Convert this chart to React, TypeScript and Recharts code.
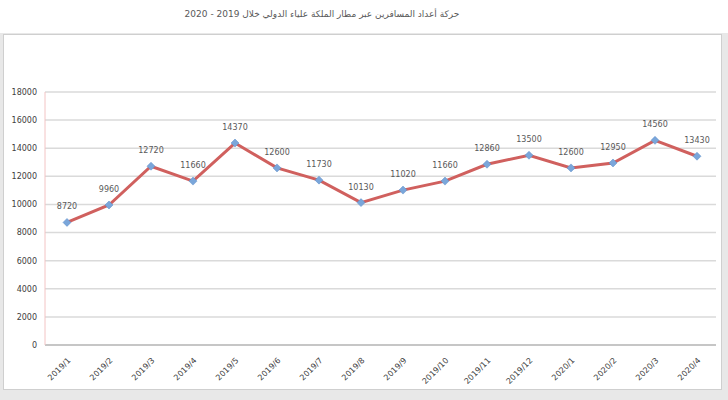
import { CartesianGrid, LabelList, Line, LineChart, XAxis, YAxis } from "recharts";

const title = "حركة أعداد المسافرين عبر مطار الملكة علياء الدولي خلال 2019 - 2020";

const months = [
  "2019/1", "2019/2", "2019/3", "2019/4", "2019/5", "2019/6", "2019/7", "2019/8",
  "2019/9", "2019/10", "2019/11", "2019/12", "2020/1", "2020/2", "2020/3", "2020/4",
];

const values = [
  8720, 9960, 12720, 11660, 14370, 12600, 11730, 10130,
  11020, 11660, 12860, 13500, 12600, 12950, 14560, 13430,
];

const yTicks = [0, 2000, 4000, 6000, 8000, 10000, 12000, 14000, 16000, 18000];

const data = months.map((m, i) => ({ month: m, value: values[i] }));

function MonthTick({ x, y, payload }: any) {
  return (
    <g transform={`translate(${x + 4},${y + 8})`}>
      <text
        textAnchor="end"
        transform="rotate(-45)"
        fontSize={8}
        fill="#404040"
        fontFamily="DejaVu Sans, sans-serif"
      >
        {payload.value}
      </text>
    </g>
  );
}

function Diamond({ cx, cy }: any) {
  if (cx == null || cy == null) return null;
  return (
    <path
      d={`M${cx},${cy - 4} L${cx + 4},${cy} L${cx},${cy + 4} L${cx - 4},${cy} Z`}
      fill="#7aa6da"
      stroke="#5b8cc8"
      strokeWidth={0.5}
    />
  );
}

export default function App() {
  return (
    <div
      style={{
        position: "absolute",
        left: 0,
        top: 0,
        width: 728,
        height: 400,
        background: "#ffffff",
        fontFamily: "DejaVu Sans, sans-serif",
      }}
    >
      <div
        style={{
          position: "absolute",
          left: 0,
          top: 33,
          width: 728,
          height: 367,
          background: "#e8e8e8",
        }}
      />
      <div
        style={{
          position: "absolute",
          left: 3,
          top: 34,
          width: 717,
          height: 354,
          background: "#ffffff",
          border: "1px solid #cfcfcf",
        }}
      />
      <div
        style={{
          position: "absolute",
          left: 0,
          top: 9,
          width: 644,
          textAlign: "center",
          fontSize: 9,
          color: "#595959",
          direction: "rtl",
        }}
      >
        {title}
      </div>
      <div style={{ position: "absolute", left: 0, top: 0 }}>
        <LineChart
          width={728}
          height={400}
          data={data}
          margin={{ top: 92, right: 12, bottom: 0, left: 0 }}
        >
          <CartesianGrid vertical={false} stroke="#dadada" strokeWidth={1.5} />
          <XAxis
            dataKey="month"
            height={55}
            padding={{ left: 22, right: 19 }}
            tick={<MonthTick />}
            interval={0}
            axisLine={{ stroke: "#bdbdbd", strokeWidth: 1.5 }}
            tickLine={false}
          />
          <YAxis
            width={45}
            domain={[0, 18000]}
            ticks={yTicks}
            interval={0}
            tick={{ fill: "#404040", fontSize: 8 }}
            axisLine={{ stroke: "#f3c4c4" }}
            tickLine={false}
          />
          <Line
            type="linear"
            dataKey="value"
            stroke="#d0605e"
            strokeWidth={3}
            dot={<Diamond />}
            isAnimationActive={false}
          >
            <LabelList
              dataKey="value"
              position="top"
              offset={13}
              fontSize={8}
              fill="#595959"
            />
          </Line>
        </LineChart>
      </div>
    </div>
  );
}
